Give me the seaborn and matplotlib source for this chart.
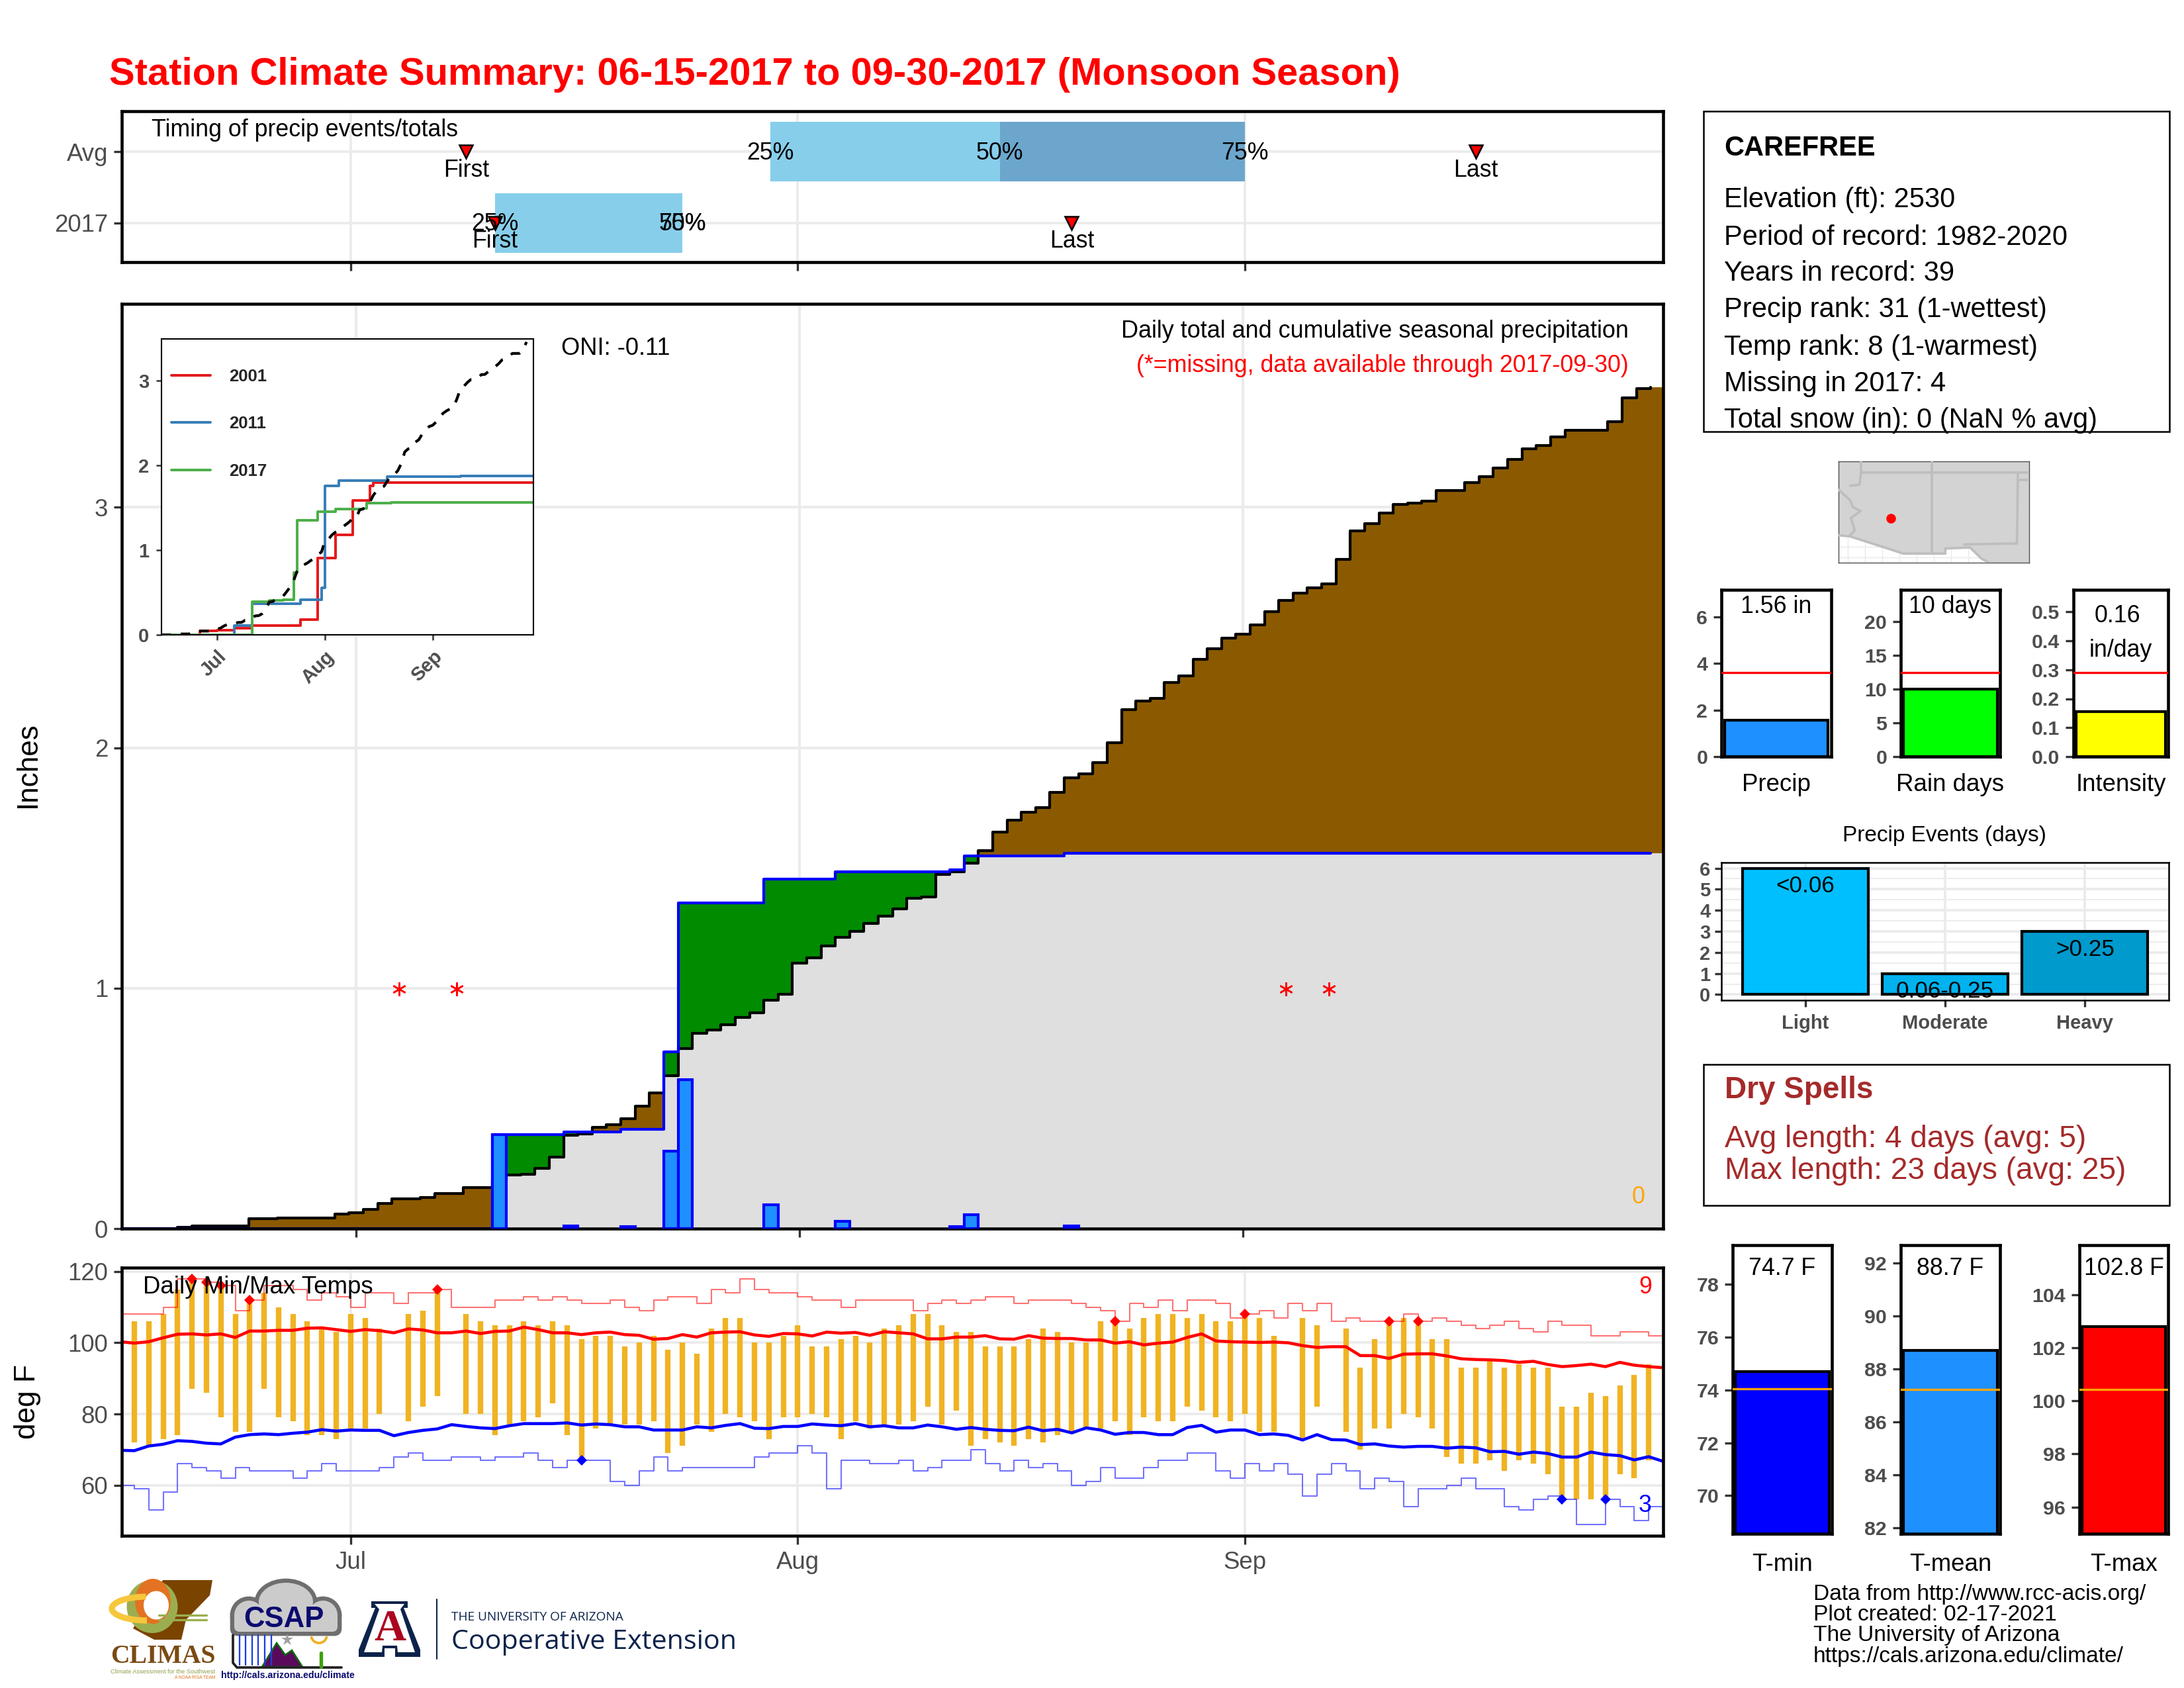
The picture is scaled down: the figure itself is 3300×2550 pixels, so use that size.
import numpy as np
import seaborn as sns
import matplotlib
matplotlib.use("Agg")
import matplotlib.pyplot as plt
from matplotlib.patches import Rectangle, Ellipse, Polygon, Arc, FancyBboxPatch

W, H = 3300, 2550
nan = np.nan

days = np.arange(108)
month_ticks = [16, 47, 78]
month_labels = ["Jul", "Aug", "Sep"]

# daily temps, one value per day from Jun 15 (day 0)
temp_max = [nan,106,106,108,115,118,117,116,108,112,114,110,108,106,104,103,108,107,104,nan,
            108,109,115,nan,108,106,105,105,106,105,106,105,101,102,102,99,100,102,98,100,
            97,104,107,107,100,100,102,105,99,99,101,102,100,104,105,108,108,105,103,103,
            99,99,99,101,104,103,100,100,106,106,104,107,108,108,107,108,106,106,108,107,
            102,nan,107,105,nan,104,93,101,106,107,106,101,101,93,93,95,93,94,93,93,
            82,82,86,85,88,91,94,nan]
temp_min = [nan,72,71,73,74,87,86,79,75,75,87,79,78,74,74,73,76,76,80,nan,
            78,82,85,nan,80,80,74,77,78,79,83,74,67,76,77,77,77,78,69,71,
            77,75,80,79,78,73,79,79,80,79,73,78,76,77,77,78,82,77,81,71,
            73,72,71,73,72,74,75,76,76,78,74,79,78,78,82,81,79,78,80,75,
            75,nan,73,82,nan,75,70,76,76,80,79,76,68,66,66,67,64,67,66,63,
            56,56,56,56,63,62,67,nan]
record_high = [108,108,108,110,118,118,117,116,109,112,116,116,115,112,114,113,110,114,114,111,
               114,114,115,110,110,110,112,112,113,112,113,112,111,111,112,110,109,112,113,113,
               111,115,114,118,115,114,114,113,112,112,110,112,112,112,112,109,111,112,111,112,
               113,113,111,112,112,112,111,110,109,106,111,110,112,109,112,112,111,107,108,109,
               107,111,109,111,106,107,106,106,106,108,106,107,106,105,104,105,106,104,103,106,
               105,105,102,102,103,103,102,102]
record_low = [60,59,53,58,66,65,64,62,65,64,64,64,62,64,66,64,64,64,65,68,
              69,67,67,68,68,67,68,68,69,67,65,67,67,67,61,60,64,68,64,65,
              65,65,65,65,68,69,69,71,69,59,67,67,66,66,67,64,65,67,67,70,
              66,64,67,65,66,64,60,61,65,62,62,65,67,67,69,69,64,62,66,64,
              66,63,57,63,66,64,59,62,61,54,59,59,60,62,59,59,54,53,56,57,
              56,49,49,56,54,50,54,54]
normal_high = [100.3,99.9,100.3,101.4,102.4,102.5,102.2,102.5,101.5,103.3,103.3,103.5,103.5,104.1,104.2,103.7,103.2,103.7,103.4,102.8,
               103.9,103.6,102.8,102.8,103.3,102.6,103.2,103.3,104.4,103.7,102.8,102.8,102.3,102.8,103.0,102.3,102.1,101.0,101.2,102.3,
               101.6,102.8,103.0,103.1,102.2,101.8,102.6,102.5,101.9,103.0,102.7,102.9,102.1,103.1,102.8,102.5,101.1,101.1,101.6,101.6,
               102.0,101.1,101.0,102.0,101.3,101.2,101.2,100.8,100.8,99.9,100.3,99.4,99.9,100.2,101.5,102.5,100.5,100.3,100.2,100.1,
               100.2,100.0,99.2,98.7,98.9,98.9,96.4,96.4,95.6,96.8,96.9,96.9,96.3,95.5,95.3,95.2,95.0,94.5,94.8,93.9,
               93.3,93.6,94.0,93.3,94.5,93.7,93.3,93.0]
normal_low = [69.8,69.7,71.0,71.5,72.5,72.3,71.8,71.6,73.5,74.2,74.4,74.2,74.6,74.9,75.6,75.2,75.5,75.4,75.4,73.9,
              74.8,75.4,75.8,77.0,76.5,76.1,75.9,76.7,77.3,77.3,77.3,77.5,76.9,77.2,77.0,76.4,76.4,75.5,75.5,75.5,
              76.4,76.1,76.8,77.3,76.0,75.9,76.5,76.5,77.2,76.9,76.7,77.3,76.4,76.7,76.1,76.1,76.9,76.4,75.7,76.2,
              75.7,75.4,75.3,76.3,75.3,75.7,74.7,76.1,75.5,74.3,74.8,74.8,74.2,74.2,76.2,76.8,74.9,75.5,75.5,74.2,
              74.4,74.0,72.7,74.2,72.8,72.7,71.4,71.6,71.0,70.7,70.9,70.9,70.4,70.7,70.5,69.4,69.5,68.7,69.3,68.9,
              67.9,67.9,69.3,68.6,68.3,67.1,68.0,66.7]
hot_days = [5, 6, 7, 9, 22, 69, 78, 88, 90]
cold_days = [32, 100, 103]

# cumulative precip, long term average
avg_cum = [0,0,0,0,.005,.01,.01,.01,.01,.04,.04,.044,.044,.044,.044,.06,.065,.08,.105,.123,
           .123,.13,.146,.146,.17,.17,.2,.223,.227,.25,.297,.388,.393,.42,.432,.456,.508,.564,.636,.75,
           .811,.826,.848,.878,.898,.95,.974,1.105,1.125,1.176,1.21,1.237,1.269,1.299,1.33,1.373,1.378,1.473,1.485,1.52,
           1.571,1.65,1.70,1.733,1.752,1.814,1.876,1.891,1.937,2.021,2.159,2.194,2.204,2.272,2.30,2.367,2.411,2.457,2.471,2.51,
           2.566,2.613,2.642,2.664,2.682,2.784,2.901,2.932,2.977,3.011,3.016,3.025,3.069,3.071,3.103,3.127,3.163,3.198,3.244,3.258,
           3.294,3.319,3.319,3.32,3.355,3.454,3.493,3.5]
rain_days = [26, 31, 35, 38, 39, 45, 50, 58, 59, 66]
rain_amount = [.392, .011, .009, .323, .619, .10, .03, .009, .057, .01]
missing_days = [19, 23, 81, 84]

# other years in the inset: day the total changed, and the new total
y2001_days = [0, 11, 16, 21, 26, 40, 45, 50, 55, 60, 61, 107]
y2001_cum = [0, .045, .054, .075, .113, .176, .904, 1.178, 1.587, 1.754, 1.795, 1.795]
y2011_days = [0, 21, 26, 40, 46, 47, 51, 65, 86, 107]
y2011_cum = [0, .113, .364, .415, .558, 1.754, 1.82, 1.864, 1.873, 1.873]

# timing panel
avg_q = [45.1, 61, 78]
obs_q = [26, 39, 39]
avg_first_last = [24, 94]
obs_first_last = [26, 66]

# summary bars
precip_total, precip_avg = 1.56, 3.61
raindays_total, raindays_avg = 10, 12.45
intensity_val, intensity_avg = 0.156, 0.29
event_cats = ["Light", "Moderate", "Heavy"]
event_counts = [6, 1, 3]
event_labels = ["<0.06", "0.06-0.25", ">0.25"]
event_colors = ["#00BFFF", "#00B2EE", "#009ACD"]
tmin_val, tmin_avg = 74.7, 74.03
tmean_val, tmean_avg = 88.7, 87.24
tmax_val, tmax_avg = 102.8, 100.44

info_lines = ["Elevation (ft): 2530", "Period of record: 1982-2020", "Years in record: 39",
              "Precip rank: 31 (1-wettest)", "Temp rank: 8 (1-warmest)", "Missing in 2017: 4",
              "Total snow (in): 0 (NaN % avg)"]
foot_lines = ["Data from http://www.rcc-acis.org/", "Plot created: 02-17-2021",
              "The University of Arizona", "https://cals.arizona.edu/climate/"]

sns.set_theme(style="whitegrid", rc={"grid.color": "#EBEBEB", "grid.linewidth": 0.9,
                                      "axes.edgecolor": "black", "xtick.color": "#333333",
                                      "ytick.color": "#333333", "xtick.bottom": True, "ytick.left": True,
                                      "xtick.labelcolor": "#4D4D4D", "ytick.labelcolor": "#4D4D4D"})
plt.rcParams["font.family"] = ["Liberation Sans", "DejaVu Sans"]

fig = plt.figure(figsize=(11, 8.5), dpi=300, facecolor="white")


def panel(l, t, r, b, frame=1.1):
    ax = fig.add_axes([l / W, 1 - b / H, (r - l) / W, (b - t) / H])
    for s in ax.spines.values():
        s.set_linewidth(frame)
    ax.tick_params(length=3, width=0.8, labelsize=8.8, pad=2)
    ax.set_axisbelow(True)
    return ax


# timing panel
ax = panel(184, 168, 2513, 396)
ax.barh(2, avg_q[1] - avg_q[0], left=avg_q[0], height=0.84, color="#87CEEB", lw=0)
ax.barh(2, avg_q[2] - avg_q[1], left=avg_q[1], height=0.84, color="#6CA6CD", lw=0)
ax.barh(1, obs_q[1] - obs_q[0], left=obs_q[0], height=0.84, color="#87CEEB", lw=0)
for row, qs, fl in [(2, avg_q, avg_first_last), (1, obs_q, obs_first_last)]:
    for q, lab in zip(qs, ["25%", "50%", "75%"]):
        ax.text(q, row - 0.02, lab, ha="center", va="center", fontsize=8.6, color="black")
    for d, lab in zip(fl, ["First", "Last"]):
        ax.text(d, row - 0.26, lab, ha="center", va="center", fontsize=8.6, color="black")
    ax.plot(fl, [row, row], ls="none", marker="v", ms=5, mfc="red", mec="black", mew=0.6)
ax.text(0.0195, 0.875, "Timing of precip events/totals", transform=ax.transAxes, fontsize=8.6,
        color="black", va="center")
ax.set_xlim(0.13, 107)
ax.set_ylim(0.45, 2.57)
ax.set_xticks(month_ticks)
ax.set_xticklabels([])
ax.set_yticks([1, 2])
ax.set_yticklabels(["2017", "Avg"])

# main precip panel
ax = panel(184, 459, 2513, 1856)
obs_cum = np.zeros(108)
obs_cum[rain_days] = rain_amount
obs_cum = np.cumsum(obs_cum)
avg_arr = np.array(avg_cum)
low_arr = np.minimum(obs_cum, avg_arr)
edges = np.append(days - 0.5, 107.5)
ax.fill_between(edges, 0, np.append(low_arr, low_arr[-1]), step="post", color="#DFDFDF", lw=0)
ax.fill_between(edges, np.append(low_arr, low_arr[-1]), np.append(avg_arr, avg_arr[-1]), step="post",
                color="#8B5A00", lw=0)
ax.fill_between(edges, np.append(low_arr, low_arr[-1]), np.append(obs_cum, obs_cum[-1]), step="post",
                color="#008B00", lw=0)
sns.lineplot(x=edges[:-1], y=avg_arr, color="black", lw=1.0, drawstyle="steps-post", ax=ax, estimator=None)
sns.lineplot(x=edges[:-1], y=obs_cum, color="blue", lw=1.0, drawstyle="steps-post", ax=ax, estimator=None)
ax.bar(rain_days, rain_amount, width=1, color="#1E90FF", edgecolor="blue", lw=1.0, zorder=4)
ax.plot(missing_days, [0.997] * 4, ls="none", marker=(6, 2, 0), ms=5, color="red", mew=0.6, zorder=5)
ax.set_xlim(-0.39, 107.37)
ax.set_ylim(0, 3.846)
ax.set_xticks(month_ticks)
ax.set_xticklabels([])
ax.set_yticks([0, 1, 2, 3])
ax.grid(True, lw=1.0)

# inset
ax = panel(244, 512, 806, 959, frame=0.5)
ax.set_zorder(3)
sns.lineplot(x=y2001_days, y=y2001_cum, color="#E41A1C", lw=0.95, drawstyle="steps-post", ax=ax, label="2001")
sns.lineplot(x=y2011_days, y=y2011_cum, color="#377EB8", lw=0.95, drawstyle="steps-post", ax=ax, label="2011")
sns.lineplot(x=days, y=obs_cum, color="#4DAF4A", lw=0.95, drawstyle="steps-post", ax=ax, label="2017")
sns.lineplot(x=days[:106], y=avg_arr[:106], color="black", lw=1.0, ax=ax, linestyle=(0, (3.5, 3.5)))
ax.set_xlim(0, 107)
ax.set_ylim(0, 3.49)
ax.set_xticks(month_ticks)
ax.set_xticklabels(month_labels, rotation=45, ha="right", rotation_mode="anchor", fontsize=7, fontweight="bold")
ax.set_yticks([0, 1, 2, 3])
ax.set_yticklabels(["0", "1", "2", "3"], fontsize=7, fontweight="bold")
ax.tick_params(length=2, width=0.6, pad=2.5)
ax.grid(False)
h, l = ax.get_legend_handles_labels()
ax.legend(h[:3], l[:3], loc="upper left", bbox_to_anchor=(0.027, 0.9), frameon=False,
          labelspacing=1.85, handlelength=2.28, handletextpad=1.1, prop={"size": 6.2, "weight": "bold"},
          borderaxespad=0, borderpad=0)

# temperature panel
ax = panel(184, 1915, 2513, 2320)
ax.vlines(days, temp_min, temp_max, color="#F0B323", lw=2.0, zorder=2)
sns.lineplot(x=days, y=record_high, color="red", lw=0.5, alpha=0.55, drawstyle="steps-post", ax=ax, estimator=None)
sns.lineplot(x=days, y=record_low, color="blue", lw=0.5, alpha=0.55, drawstyle="steps-post", ax=ax, estimator=None)
sns.lineplot(x=days, y=normal_high, color="red", lw=1.1, ax=ax, estimator=None)
sns.lineplot(x=days, y=normal_low, color="blue", lw=1.1, ax=ax, estimator=None)
ax.plot(hot_days, [record_high[d] for d in hot_days], ls="none", marker="D", ms=2.7, color="red", mew=0, zorder=5)
ax.plot(cold_days, [record_low[d] for d in cold_days], ls="none", marker="D", ms=2.7, color="blue", mew=0, zorder=5)
ax.set_xlim(0.13, 107)
ax.set_ylim(45.8, 121.1)
ax.set_xticks(month_ticks)
ax.set_xticklabels(month_labels)
ax.tick_params(axis="x", pad=2.5)
ax.set_yticks([60, 80, 100, 120])
ax.grid(True)


def summary_bar(l, t, r, b, label, value, avg, color, ylim, ticks, avg_color, ticklabels=None, pad=6):
    ax = panel(l, t, r, b)
    sns.barplot(x=[label], y=[value], color=color, saturation=1, width=0.9, edgecolor="black", lw=1.0, ax=ax)
    ax.axhline(avg, color=avg_color, lw=0.8, zorder=5)
    ax.set_xlim(-0.476, 0.476)
    ax.set_ylim(*ylim)
    ax.set_yticks(ticks)
    if ticklabels:
        ax.set_yticklabels(ticklabels)
    ax.grid(False)
    ax.tick_params(axis="y", labelsize=7.3, length=3)
    for t_ in ax.get_yticklabels():
        t_.set_fontweight("bold")
    ax.tick_params(axis="x", length=0, labelsize=8.8, labelcolor="black", pad=pad)
    ax.set_ylabel("")
    return ax


summary_bar(2601, 891, 2767, 1143, "Precip", precip_total, precip_avg, "#1E90FF", (0, 7.17), [0, 2, 4, 6], "red")
summary_bar(2872, 891, 3022, 1143, "Rain days", raindays_total, raindays_avg, "#00FF00", (0, 24.7),
            [0, 5, 10, 15, 20], "red")
summary_bar(3133, 891, 3276, 1143, "Intensity", intensity_val, intensity_avg, "#FFFF00", (0, 0.576),
            [0, .1, .2, .3, .4, .5], "red", ["0.0", "0.1", "0.2", "0.3", "0.4", "0.5"])
summary_bar(2618, 1881, 2768, 2317, "T-min", tmin_val, tmin_avg, "#0000FF", (68.56, 79.47),
            [70, 72, 74, 76, 78], "orange", pad=7)
summary_bar(2872, 1881, 3022, 2317, "T-mean", tmean_val, tmean_avg, "#1E90FF", (81.78, 92.68),
            [82, 84, 86, 88, 90, 92], "orange", pad=7)
summary_bar(3142, 1881, 3276, 2317, "T-max", tmax_val, tmax_avg, "#FF0000", (94.99, 105.87),
            [96, 98, 100, 102, 104], "orange", pad=7)

# precip events
ax = panel(2601, 1303, 3277, 1511, frame=0.6)
sns.barplot(x=event_cats, y=event_counts, hue=event_cats, palette=event_colors, saturation=1, width=0.9,
            edgecolor="black", lw=1.0, legend=False, ax=ax)
ax.set_xlim(-0.6, 2.6)
ax.set_ylim(-0.27, 6.27)
ax.set_yticks(range(7))
ax.set_yticks(np.arange(0.5, 6.5, 1), minor=True)
ax.grid(True, which="major", lw=0.9)
ax.grid(True, which="minor", axis="y", lw=0.45)
ax.tick_params(which="minor", length=0)
ax.tick_params(axis="both", which="major", labelsize=7, length=2.5, pad=1.5)
ax.tick_params(axis="x", pad=2.5)
ax.set_xticks(range(3))
ax.set_xticklabels(event_cats, fontweight="bold")
for t_ in ax.get_yticklabels():
    t_.set_fontweight("bold")
for i, (c, lab) in enumerate(zip(event_counts, event_labels)):
    ax.text(i, c - 0.85, lab, ha="center", va="center", fontsize=8.4, color="black")

# map, positions given as fractions of the map box
map_fill_x = [0, 1, 1, .79, .75, .69, .56, .56, .34, .06, 0]
map_fill_y = [1, 1, 0, 0, .04, .15, .14, .09, .09, .26, .27]
map_lines = [([0, .06, .075, .115, .065, .085, .06], [.72, .62, .55, .51, .44, .32, .27]),
             ([.06, .11, .118, 1], [.76, .77, .89, .89]),
             ([.118, .118], [.89, 1]),
             ([.49, .49], [.09, 1]),
             ([.941, .936, .66], [.89, .19, .18]),
             ([.941, 1], [.82, .82])]
ax = panel(2778, 697, 3066, 850, frame=0.35)
for s in ax.spines.values():
    s.set_edgecolor("#555555")
ax.set_xlim(0, 1)
ax.set_ylim(0, 1)
ax.set_xticks(np.arange(.05, 1, .09))
ax.set_yticks([.05, .16, .27])
ax.set_xticklabels([])
ax.set_yticklabels([])
ax.tick_params(length=0)
ax.grid(True, lw=0.35)
ax.fill(map_fill_x, map_fill_y, color="#D3D3D3", lw=0, zorder=2)
for xs, ys in map_lines:
    ax.plot(xs, ys, color="#BEBEBE", lw=0.9, zorder=3)
ax.plot(map_fill_x[3:11], map_fill_y[3:11], color="#BEBEBE", lw=0.9, zorder=3)
ax.plot([.275], [.44], ls="none", marker="o", ms=3.5, color="red", mew=0, zorder=4)

# overlay in pixels for free text, boxes and logos
ov = fig.add_axes([0, 0, 1, 1], zorder=10)
ov.set_xlim(0, W)
ov.set_ylim(H, 0)
ov.axis("off")
ov.patch.set_alpha(0)

ov.text(165, 113, "Station Climate Summary: 06-15-2017 to 09-30-2017 (Monsoon Season)", color="red",
        fontsize=13.9, fontweight="bold", va="center")
ov.text(42, 1155, "Inches", rotation=90, ha="center", va="center", fontsize=10.6, color="black")
ov.text(42, 2118, "deg F", rotation=90, ha="center", va="center", fontsize=10.6, color="black")
ov.text(2461, 500, "Daily total and cumulative seasonal precipitation", ha="right", va="center", fontsize=8.65, color="black")
ov.text(2461, 552, "(*=missing, data available through 2017-09-30)", ha="right", va="center", fontsize=8.6, color="red")
ov.text(848, 527, "ONI: -0.11", va="center", fontsize=8.7, color="black")
ov.text(2476, 1809, "0", ha="center", va="center", fontsize=8.6, color="orange")
ov.text(216, 1944, "Daily Min/Max Temps", va="center", fontsize=8.8, color="black")
ov.text(2486, 1944, "9", ha="center", va="center", fontsize=8.6, color="red")
ov.text(2486, 2274, "3", ha="center", va="center", fontsize=8.6, color="blue")

# station box
ov.add_patch(Rectangle((2574, 168), 704, 484, fill=False, edgecolor="black", lw=0.6))
ov.text(2605, 224, "CAREFREE", fontsize=10, fontweight="bold", va="center", color="black")
for y, s in zip([302, 359, 413, 468, 525, 580, 635], info_lines):
    ov.text(2605, y, s, fontsize=10, va="center", color="black")

# dry spells box
ov.add_patch(Rectangle((2574, 1608), 704, 213, fill=False, edgecolor="black", lw=0.6))
ov.text(2606, 1647, "Dry Spells", fontsize=11, fontweight="bold", va="center", color="#A52A2A")
ov.text(2606, 1721, "Avg length: 4 days (avg: 5)", fontsize=11.05, va="center", color="#A52A2A")
ov.text(2606, 1769, "Max length: 23 days (avg: 25)", fontsize=11.05, va="center", color="#A52A2A")

# value labels on the bars
ov.text(2684, 917, "1.56 in", ha="center", va="center", fontsize=8.6, color="black")
ov.text(2947, 917, "10 days", ha="center", va="center", fontsize=8.6, color="black")
ov.text(3199, 931, "0.16", ha="center", va="center", fontsize=8.6, color="black")
ov.text(3204, 983, "in/day", ha="center", va="center", fontsize=8.6, color="black")
ov.text(2693, 1916, "74.7 F", ha="center", va="center", fontsize=8.6, color="black")
ov.text(2947, 1916, "88.7 F", ha="center", va="center", fontsize=8.6, color="black")
ov.text(3209, 1916, "102.8 F", ha="center", va="center", fontsize=8.6, color="black")
ov.text(2938, 1263, "Precip Events (days)", ha="center", va="center", fontsize=8.0, color="black")

for y, s in zip([2408, 2439, 2471, 2503], foot_lines):
    ov.text(2740, y, s, fontsize=8.05, va="center", color="black")

# CLIMAS logo
ov.add_patch(Polygon([(246, 2387), (321, 2387), (317, 2410), (281, 2447), (274, 2477), (233, 2477), (201, 2460), (220, 2427)],
                     color="#7A4300", lw=0))
ov.add_patch(Ellipse((230, 2427), 77, 80, color="#9BAE4F", lw=0))
ov.add_patch(Ellipse((231, 2419), 54, 68, color="#E37222", lw=0))
ov.add_patch(Ellipse((236, 2425), 38, 43, color="white", lw=0))
ov.add_patch(Arc((222, 2430), 106, 36, theta1=90, theta2=265, color="#F7C73B", lw=2.2))
ov.plot([240, 312], [2440, 2440], color="#9BAE4F", lw=0.8)
ov.plot([240, 312], [2447, 2447], color="#9BAE4F", lw=0.8)
ov.text(246, 2503, "CLIMAS", ha="center", va="center", fontsize=9.5, color="#7A4A12", fontweight="bold",
        family="Liberation Serif")
ov.text(246, 2526, "Climate Assessment for the Southwest", ha="center", va="center", fontsize=2.2, color="#8FA04A")
ov.text(325, 2534, "A NOAA RISA TEAM", ha="right", va="center", fontsize=1.6, color="#E37222")

# CSAP logo
for lw_, c, grow in [(1.6, "#6E6E6E", 0), (0, "#CBCBCB", -3)]:
    ov.add_patch(FancyBboxPatch((351 - grow, 2432 - grow), 162 + 2 * grow, 36 + 2 * grow,
                                boxstyle="round,pad=0,rounding_size=8", fc=c, ec=c, lw=lw_))
    ov.add_patch(Ellipse((432, 2420), 88 + 2 * grow, 64 + 2 * grow, fc=c, ec=c, lw=lw_))
    ov.add_patch(Ellipse((376, 2440), 50 + 2 * grow, 50 + 2 * grow, fc=c, ec=c, lw=lw_))
    ov.add_patch(Ellipse((488, 2440), 50 + 2 * grow, 50 + 2 * grow, fc=c, ec=c, lw=lw_))
ov.text(429, 2447, "CSAP", ha="center", va="center", fontsize=10.5, fontweight="bold", color="#0B0B70")
for x in [362, 371, 381, 390, 400, 410]:
    ov.plot([x, x], [2470, 2515], color="#1E3CE0", lw=0.55)
ov.plot([352, 352, 358, 516], [2470, 2512, 2519, 2519], color="#222222", lw=0.9)
ov.add_patch(Polygon([(396, 2518), (418, 2482), (431, 2500), (441, 2493), (457, 2518)], fc="#5A0A5A", ec="#0B6B0B", lw=0.6))
ov.add_patch(Arc((482, 2470), 24, 24, theta1=10, theta2=170, color="#F0B020", lw=0.9))
ov.plot([485, 485], [2497, 2518], color="#3FA010", lw=1.3)
ov.plot([434], [2477], marker="*", ms=4.5, color="#A0A0A0", mew=0)
ov.text(435, 2531, "http://cals.arizona.edu/climate", ha="center", va="center", fontsize=3.4, fontweight="bold", color="#0B0B70")

# University of Arizona logo, block A
a_outer = [(561, 2419), (616, 2419), (616, 2429), (610, 2429), (635, 2492), (635, 2503), (597, 2503), (597, 2490),
           (581, 2490), (581, 2503), (542, 2503), (542, 2492), (567, 2429), (561, 2429)]
a_inner = [(566, 2423), (611, 2423), (605, 2431), (627, 2496), (601, 2496), (600, 2486), (578, 2486), (577, 2496),
           (550, 2496), (573, 2431)]
ov.add_patch(Polygon(a_outer, fc="#0C234B", lw=0))
ov.add_patch(Polygon(a_inner, fc="white", lw=0))
ov.text(589, 2462, "A", ha="center", va="center", fontsize=16, fontweight="bold", color="#AB0520", family="Liberation Serif")
ov.plot([660, 660], [2416, 2506], color="#0C234B", lw=0.5)
ov.text(682, 2443, "THE UNIVERSITY OF ARIZONA", va="center", fontsize=4.55, color="#0C234B", family="Open Sans")
ov.text(682, 2481, "Cooperative Extension", va="center", fontsize=9.9, color="#0C234B", family="Open Sans")

fig.savefig("out.png", dpi=300)
